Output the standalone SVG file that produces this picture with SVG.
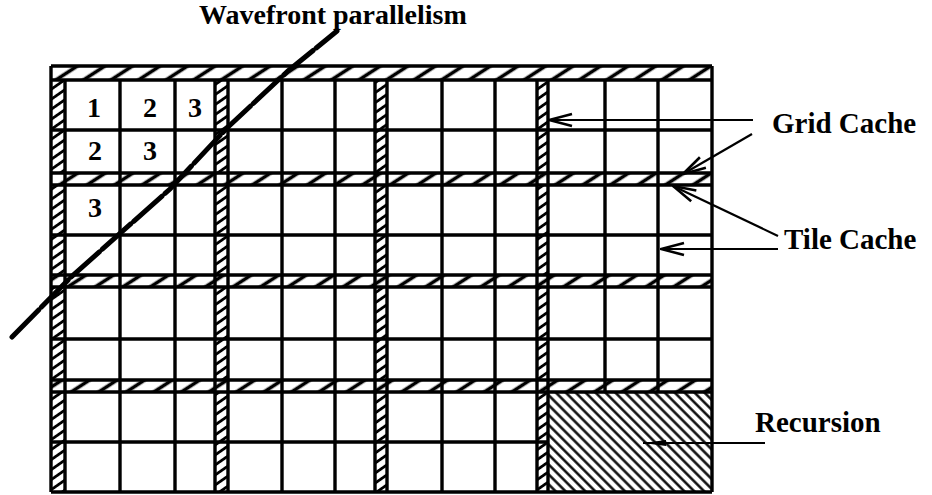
<svg xmlns="http://www.w3.org/2000/svg" width="932" height="495" viewBox="0 0 932 495">
<style>
.g{stroke:#000;stroke-width:3.4;fill:none}
.lbl{font-family:"Liberation Serif","Times New Roman",serif;font-weight:bold;font-size:29px;fill:#000}
.num{font-family:"Liberation Serif","Times New Roman",serif;font-weight:bold;font-size:28px;fill:#000;text-anchor:middle}
.c{stroke:#000;stroke-width:2.2;fill:none}
</style>
<defs>
<pattern id="hh" patternUnits="userSpaceOnUse" width="15" height="20" patternTransform="rotate(57)">
<rect width="15" height="20" fill="#fff"/><line x1="7.5" y1="0" x2="7.5" y2="20" stroke="#000" stroke-width="3.6"/>
</pattern>
<pattern id="vh" patternUnits="userSpaceOnUse" width="8.2" height="20" patternTransform="rotate(55)">
<rect width="8.2" height="20" fill="#fff"/><line x1="4.1" y1="0" x2="4.1" y2="20" stroke="#000" stroke-width="2.8"/>
</pattern>
<pattern id="rh" patternUnits="userSpaceOnUse" width="7" height="20" patternTransform="rotate(-45)">
<rect width="7" height="20" fill="#fff"/><line x1="3.5" y1="0" x2="3.5" y2="20" stroke="#000" stroke-width="2.4"/>
</pattern>
<marker id="open" markerUnits="userSpaceOnUse" markerWidth="30" markerHeight="16" refX="29" refY="7" orient="auto" viewBox="0 0 30 14">
<path d="M6,1 L29,7 L6,13" fill="none" stroke="#000" stroke-width="2.6"/>
</marker>
<marker id="solid" markerUnits="userSpaceOnUse" markerWidth="26" markerHeight="10" refX="26" refY="4" orient="auto" viewBox="0 0 26 8">
<path d="M26,4 L3,1 L3,7 z" fill="#000"/>
</marker>
</defs>
<rect width="932" height="495" fill="#fff"/>

<g id="grid">
<rect x="51" y="80" width="14" height="412" fill="url(#vh)"/>
<rect x="215" y="80" width="13" height="412" fill="url(#vh)"/>
<rect x="375" y="80" width="12" height="412" fill="url(#vh)"/>
<rect x="537" y="80" width="11" height="412" fill="url(#vh)"/>
<rect x="548" y="392" width="164" height="100" fill="url(#rh)"/>
<rect x="51" y="66" width="661" height="14" fill="url(#hh)"/>
<rect x="51" y="173" width="661" height="12" fill="url(#hh)"/>
<rect x="51" y="275" width="661" height="12" fill="url(#hh)"/>
<rect x="51" y="380" width="661" height="12" fill="url(#hh)"/>
<path class="g" d="M51,66H712M51,80H712M51,130H712M51,173H712M51,185H712M51,235H712M51,275H712M51,287H712M51,339H712M51,380H712M51,392H712M51,442H548M51,492H712"/>
<path class="g" d="M51,66V492M712,66V492M65,80V492M120,80V492M175,80V492M215,80V492M228,80V492M282,80V492M335,80V492M375,80V492M387,80V492M442,80V492M495,80V492M537,80V492M548,80V492M605,80V392M658,80V392"/>
</g>

<g id="numbers">
<text class="num" x="94" y="117">1</text>
<text class="num" x="150" y="117">2</text>
<text class="num" x="195" y="117">3</text>
<text class="num" x="95" y="160">2</text>
<text class="num" x="150" y="160">3</text>
<text class="num" x="95" y="217">3</text>
</g>

<g id="wavefront">
<path d="M12,337 L70,278 L170,189 L227,128 L288,71 L337,31" fill="none" stroke="#000" stroke-width="5" stroke-linecap="round" stroke-dasharray="38 4"/>
<text class="lbl" x="199" y="24" style="font-size:28px">Wavefront parallelism</text>
</g>

<g id="connectors">
<line class="c" x1="753" y1="120" x2="549" y2="120" marker-end="url(#open)"/>
<line class="c" x1="752" y1="134" x2="683" y2="174" marker-end="url(#open)"/>
<line class="c" x1="778" y1="236" x2="673" y2="186" marker-end="url(#open)"/>
<line class="c" x1="778" y1="249" x2="661" y2="249" marker-end="url(#open)"/>
<line class="c" x1="765" y1="443" x2="643" y2="443" marker-end="url(#solid)"/>
</g>

<g id="label-grid-cache"><text class="lbl" x="772" y="133">Grid Cache</text></g>
<g id="label-tile-cache"><text class="lbl" x="784" y="249">Tile Cache</text></g>
<g id="label-recursion"><text class="lbl" x="755" y="432">Recursion</text></g>
</svg>
